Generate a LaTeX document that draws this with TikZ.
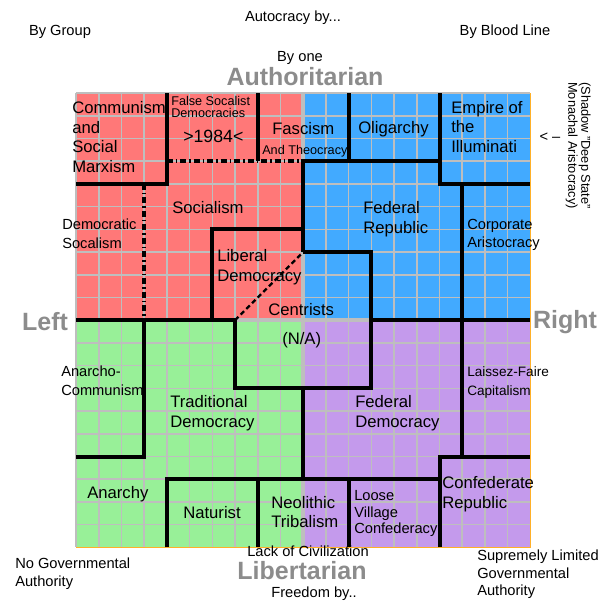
\documentclass[tikz,border=0pt]{standalone}
\usepackage{fontspec}
\setmainfont{Liberation Sans}
\definecolor{leftauth}{RGB}{255,120,120}
\definecolor{rightauth}{RGB}{66,170,255}
\definecolor{leftlib}{RGB}{152,240,152}
\definecolor{rightlib}{RGB}{196,154,236}
\definecolor{cellgray}{RGB}{190,190,190}
\definecolor{axisgray}{RGB}{140,140,140}
\definecolor{edgeorange}{RGB}{255,176,40}
\tikzset{
  wall/.style={line width=3pt, line join=miter},
  dashdotwall/.style={wall, dash pattern=on 4.5pt off 2.2pt on 1.2pt off 2.2pt},
  diagwall/.style={line width=1.8pt, dash pattern=on 3.6pt off 2.4pt},
  bigtag/.style={font=\fontsize{12.5}{14.8}\selectfont, anchor=west, inner sep=0pt, align=left},
  smalltag/.style={bigtag, font=\fontsize{11}{13.9}\selectfont},
  tinytag/.style={bigtag, font=\fontsize{9.5}{9}\selectfont},
  outertag/.style={font=\fontsize{11}{13.5}\selectfont, inner sep=0pt, align=left},
  axistag/.style={font=\bfseries\fontsize{18.75}{20}\selectfont, text=axisgray, inner sep=0pt},
}
\begin{document}
\begin{tikzpicture}[x=0.75pt, y=-0.75pt]
  \useasboundingbox (0,0) rectangle (602,604);

  \begin{scope}[shift={(76,93)}, scale=22.72]
    \fill[leftauth] (0,0) rectangle (10,10);
    \fill[rightauth] (10,0) rectangle (20,10);
    \fill[leftlib] (0,10) rectangle (10,20);
    \fill[rightlib] (10,10) rectangle (20,20);
    \foreach \i in {0,...,20}
      \draw[cellgray, line width=1.2pt] (\i,0) -- (\i,20) (0,\i) -- (20,\i);
    \draw[cellgray, line width=3pt] (10,0) -- (10,20) (0,10) -- (20,10);
    \draw[edgeorange, line width=0.9pt] (20,0) -- (20,20) -- (0,20);

    \draw[wall] (4,0) -- (4,4) -- (0,4);
    \draw[wall] (8,0) -- (8,3);
    \draw[wall] (12,0) -- (12,3);
    \draw[wall] (10,7) -- (10,3) -- (16,3);
    \draw[wall] (16,0) -- (16,4) -- (20,4);
    \draw[dashdotwall] (4,3) -- (10,3);
    \draw[dashdotwall] (3,4) -- (3,10);
    \draw[wall] (6,10) -- (6,6) -- (10,6);
    \draw[wall] (0,10) -- (7,10) -- (7,13) -- (13,13) -- (13,7) -- (10,7);
    \draw[diagwall] (7,10) -- (10,7);
    \draw[wall] (3,10) -- (3,16) -- (0,16);
    \draw[wall] (17,4) -- (17,16);
    \draw[wall] (13,10) -- (20,10);
    \draw[wall] (16,20) -- (16,16) -- (20,16);
    \draw[wall] (10,13) -- (10,17);
    \draw[wall] (4,20) -- (4,17) -- (16,17);
    \draw[wall] (8,17) -- (8,20);
    \draw[wall] (12,17) -- (12,20);
  \end{scope}

  \node[bigtag] (communism) at (72,137) {Communism\\and\\Social\\Marxism};
  \node[tinytag] (falsesoc) at (171,107) {False Socalist\\Democracies};
  \node[bigtag, font=\fontsize{13.3}{15}\selectfont] (orwell) at (183,136) {>1984<};
  \node[bigtag] (fascism) at (272,129) {Fascism};
  \node[tinytag] (theocracy) at (262,151) {And Theocracy};
  \node[bigtag] (oligarchy) at (358,129) {Oligarchy};
  \node[bigtag] (illuminati) at (451,127) {Empire of\\the\\Illuminati};
  \node[bigtag] (socialism) at (172,208) {Socialism};
  \node[smalltag] (demsoc) at (62,233.5) {Democratic\\Socalism};
  \node[bigtag] (libdem) at (217,267) {Liberal\\Democracy};
  \node[bigtag] (fedrep) at (363,219.5) {Federal\\Republic};
  \node[smalltag] (corparist) at (467,235) {Corporate\\Aristocracy};
  \node[bigtag] (centrists) at (268,310) {Centrists};
  \node[bigtag] (na) at (282,340) {(N/A)};
  \node[smalltag] (anarcom) at (61,381) {Anarcho-\\Communism};
  \node[bigtag] (tradem) at (170,413) {Traditional\\Democracy};
  \node[smalltag, font=\fontsize{10.2}{14.2}\selectfont] (laissez) at (467,382.5) {Laissez-Faire\\Capitalism};
  \node[bigtag] (feddem) at (355,413) {Federal\\Democracy};
  \node[bigtag] (anarchy) at (87,494) {Anarchy};
  \node[bigtag] (naturist) at (183,513) {Naturist};
  \node[bigtag] (neolithic) at (271,512) {Neolithic\\Tribalism};
  \node[smalltag, font=\fontsize{11}{12.4}\selectfont] (village) at (354,513.5) {Loose\\Village\\Confederacy};
  \node[bigtag] (confrep) at (442,494.5) {Confederate\\Republic};

  \node[outertag] (autocracy) at (293,18) {Autocracy by...};
  \node[outertag] (bygroup) at (60,32) {By Group};
  \node[outertag] (byblood) at (505,32) {By Blood Line};
  \node[outertag] (byone) at (300,58) {By one};
  \node[axistag] (authlbl) at (305,77) {Authoritarian};
  \node[axistag] (leftlbl) at (45,322) {Left};
  \node[axistag] (rightlbl) at (565,322) {Right};
  \node[axistag] (liblbl) at (302,571) {Libertarian};
  \node[outertag] (pointer) at (550,137) {< --};
  \node[outertag, rotate=-90, anchor=north west, font=\fontsize{9.6}{9.75}\selectfont] (shadow) at (591,82) {(Shadow "Deep State"\\Monachal Aristocracy)};
  \node[outertag] (lackciv) at (308,551.5) {Lack of Civilization};
  \node[outertag] (freedom) at (314,593.5) {Freedom by..};
  \node[outertag, anchor=west] (nogov) at (15,574) {No Governmental\\Authority};
  \node[outertag, anchor=west, font=\fontsize{11}{13.1}\selectfont] (limgov) at (477,574.5) {Supremely Limited\\Governmental\\Authority};
\end{tikzpicture}
\end{document}
